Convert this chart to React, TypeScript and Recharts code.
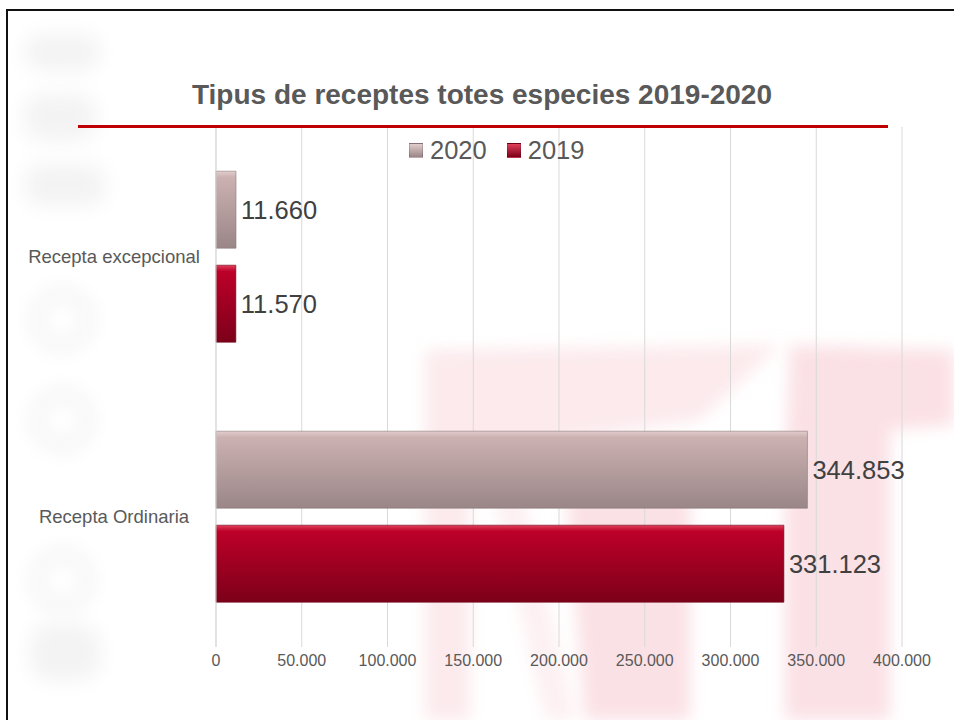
import React from "react";
import { BarChart, Bar, XAxis, YAxis, CartesianGrid, LabelList } from "recharts";

const categories = ["Recepta excepcional", "Recepta Ordinaria"];
const values2020 = [11660, 344853];
const values2019 = [11570, 331123];
const xTicks = [0, 50000, 100000, 150000, 200000, 250000, 300000, 350000, 400000];
const seriesNames = ["2020", "2019"];

const data = categories.map((c, i) => ({ cat: c, y2020: values2020[i], y2019: values2019[i] }));

const FONT = "'Liberation Sans', Arial, Helvetica, sans-serif";
const fmt = (v: number) => v.toLocaleString("de-DE");

const CatTick = (props: any) => {
  const { y, payload } = props;
  return (
    <text x={114} y={y} dy={6} textAnchor="middle" fontSize={18.5} fill="#595959" fontFamily={FONT}>
      {payload.value}
    </text>
  );
};

const swatch = (top: string, bottom: string) => ({
  display: "inline-block",
  width: 12,
  height: 13,
  background: `linear-gradient(${top}, ${bottom})`,
  border: "1px solid rgba(0,0,0,0.15)",
  marginRight: 7,
  verticalAlign: "middle",
});

export default function App() {
  return (
    <div style={{ position: "absolute", left: 0, top: 0, width: 954, height: 720, background: "#fff", overflow: "hidden", fontFamily: FONT }}>
      {/* faint watermark behind the chart */}
      <svg width={954} height={720} style={{ position: "absolute", left: 0, top: 0 }}>
        <defs>
          <filter id="soft" x="-10%" y="-10%" width="120%" height="120%">
            <feGaussianBlur stdDeviation="8" />
          </filter>
          <filter id="softer" x="-20%" y="-20%" width="140%" height="140%">
            <feGaussianBlur stdDeviation="10" />
          </filter>
        </defs>
        <g filter="url(#soft)" fill="#f9d7dd" opacity={0.75}>
          <polygon points="425,350 780,345 700,420 560,440 470,470 470,720 425,720" opacity={0.7} />
          <polygon points="490,480 520,480 575,720 545,720" opacity={0.5} />
          <polygon points="565,470 690,440 690,720 585,720" />
          <polygon points="790,345 954,350 954,425 890,430 890,720 785,720 785,470" />
        </g>
        <g filter="url(#softer)" fill="#f3f3f3">
          <rect x={25} y={35} width={75} height={35} rx={15} />
          <rect x={25} y={95} width={70} height={45} rx={15} />
          <rect x={25} y={165} width={80} height={40} rx={15} />
          <circle cx={62} cy={320} r={26} fill="none" stroke="#f1f1f1" strokeWidth={10} />
          <circle cx={62} cy={420} r={26} fill="none" stroke="#f1f1f1" strokeWidth={10} />
          <circle cx={62} cy={580} r={26} fill="none" stroke="#f1f1f1" strokeWidth={10} />
          <rect x={30} y={625} width={70} height={55} rx={20} />
        </g>
      </svg>
      {/* frame */}
      <div style={{ position: "absolute", left: 6, top: 9, width: 960, height: 720, borderLeft: "2px solid #111", borderTop: "2px solid #111" }} />
      <BarChart
        width={954}
        height={720}
        data={data}
        layout="vertical"
        margin={{ top: 127, right: 52, bottom: 40, left: 0 }}
        barCategoryGap="17%"
        barGap={17}
        style={{ position: "absolute", left: 0, top: 0 }}
      >
        <defs>
          <linearGradient id="g2020" x1="0" y1="0" x2="0" y2="1">
            <stop offset="0%" stopColor="#e2cdcd" />
            <stop offset="8%" stopColor="#ccb1b1" />
            <stop offset="100%" stopColor="#9a8687" />
          </linearGradient>
          <linearGradient id="g2019" x1="0" y1="0" x2="0" y2="1">
            <stop offset="0%" stopColor="#e0405a" />
            <stop offset="8%" stopColor="#bd0029" />
            <stop offset="100%" stopColor="#7c0019" />
          </linearGradient>
        </defs>
        <CartesianGrid horizontal={false} stroke="#d9d9d9" />
        <XAxis
          type="number"
          domain={[0, 400000]}
          ticks={xTicks}
          tickFormatter={fmt}
          axisLine={false}
          tickLine={false}
          height={33}
          tick={{ fontSize: 16, fill: "#595959", fontFamily: FONT }}
        />
        <YAxis
          type="category"
          dataKey="cat"
          width={216}
          axisLine={{ stroke: "#d9d9d9" }}
          tickLine={false}
          tick={<CatTick />}
        />
        <Bar dataKey="y2020" name={seriesNames[0]} fill="url(#g2020)" stroke="#8c7a7b" strokeWidth={0.6} isAnimationActive={false}>
          <LabelList dataKey="y2020" position="right" offset={5} formatter={(v: any) => fmt(Number(v))} style={{ fontSize: 25.5, fill: "#404040", fontFamily: FONT }} />
        </Bar>
        <Bar dataKey="y2019" name={seriesNames[1]} fill="url(#g2019)" stroke="#6a0015" strokeWidth={0.6} isAnimationActive={false}>
          <LabelList dataKey="y2019" position="right" offset={5} formatter={(v: any) => fmt(Number(v))} style={{ fontSize: 25.5, fill: "#404040", fontFamily: FONT }} />
        </Bar>
      </BarChart>
      {/* title */}
      <div style={{ position: "absolute", left: 0, top: 79, width: 964, textAlign: "center", fontSize: 28, fontWeight: "bold", color: "#595959" }}>
        Tipus de receptes totes especies 2019-2020
      </div>
      <div style={{ position: "absolute", left: 78, top: 125, width: 810, height: 3, background: "#c00000" }} />
      {/* legend */}
      <div style={{ position: "absolute", left: 409, top: 134, fontSize: 25.5, color: "#595959", whiteSpace: "nowrap" }}>
        <span style={swatch("#e2cdcd", "#9a8687")} />
        <span style={{ verticalAlign: "middle", marginRight: 20 }}>{seriesNames[0]}</span>
        <span style={swatch("#e0405a", "#7c0019")} />
        <span style={{ verticalAlign: "middle" }}>{seriesNames[1]}</span>
      </div>
    </div>
  );
}
